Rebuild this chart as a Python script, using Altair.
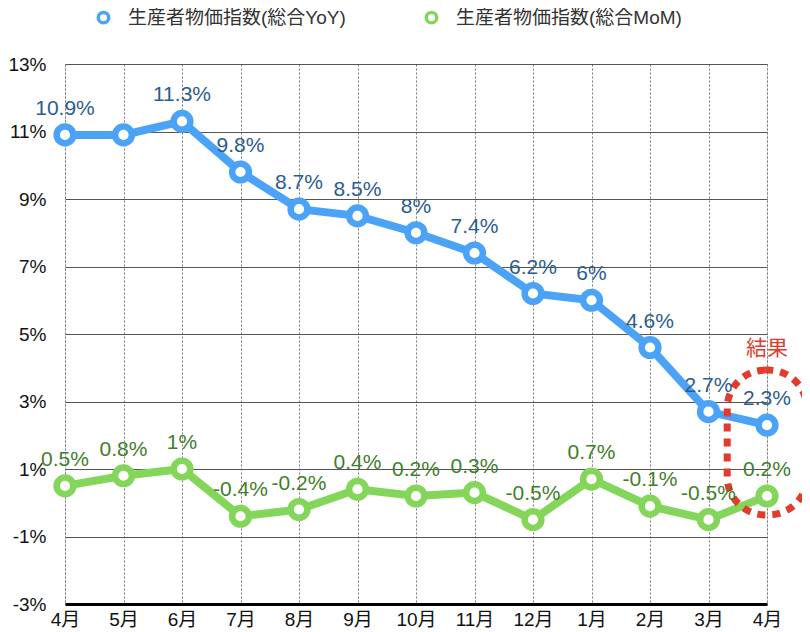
import altair as alt
import pandas as pd

months = ["4月", "5月", "6月", "7月", "8月", "9月", "10月", "11月", "12月", "1月", "2月", "3月", "4月"]
yoy = [10.9, 10.9, 11.3, 9.8, 8.7, 8.5, 8.0, 7.4, 6.2, 6.0, 4.6, 2.7, 2.3]
mom = [0.5, 0.8, 1.0, -0.4, -0.2, 0.4, 0.2, 0.3, -0.5, 0.7, -0.1, -0.5, 0.2]
yoy_show = [True, False, True, True, True, True, True, True, True, True, True, True, True]
mom_show = [True] * 13

name_yoy = "生産者物価指数(総合YoY)"
name_mom = "生産者物価指数(総合MoM)"

blue = "#4ba3f7"
green = "#84d65a"
blue_dark = "#2b5c90"
green_dark = "#3f7e2a"
red = "#e23b2b"

FONT = "Liberation Sans, Noto Sans CJK JP"

rows = []
for i in range(len(months)):
    rows.append({"idx": i, "series": name_yoy, "value": yoy[i],
                 "label": (f"{yoy[i]:g}%" if yoy_show[i] else "")})
for i in range(len(months)):
    rows.append({"idx": i, "series": name_mom, "value": mom[i],
                 "label": (f"{mom[i]:g}%" if mom_show[i] else "")})
df = pd.DataFrame(rows)

# annotation box around the latest result
box = pd.DataFrame([{"x": 11.32, "x2": 12.68, "y": 3.93, "y2": -0.36}])
note = pd.DataFrame([{"x": 12.0, "y": 4.55, "t": "結果"}])

month_expr = "[" + ",".join(f"'{m}'" for m in months) + "][datum.value]"

x_enc = alt.X("idx:Q",
              scale=alt.Scale(domain=[0, 12], nice=False, zero=False),
              axis=alt.Axis(values=list(range(13)), labelExpr=month_expr, title=None,
                            grid=True, gridDash=[2, 2], gridColor="#777", gridWidth=1,
                            domainColor="#000", domainWidth=3, ticks=False,
                            labelFontSize=19, labelPadding=6, labelColor="#111",
                            labelFont=FONT, labelFlush=False, labelOverlap=False,
                            labelBound=False))
y_enc = alt.Y("value:Q",
              scale=alt.Scale(domain=[-3, 13], nice=False, zero=False),
              axis=alt.Axis(values=list(range(-3, 14)),
                            labelExpr="datum.value % 2 !== 0 ? datum.value + '%' : ''",
                            title=None, grid=True,
                            gridDash={"condition": {"test": "datum.value % 2 === 0 && datum.value !== 0", "value": [2, 2]}, "value": []},
                            gridColor={"condition": {"test": "datum.value % 2 === 0 && datum.value !== 0", "value": "#888"}, "value": "#555"},
                            gridWidth=1, domain=False, ticks=False,
                            labelFontSize=19, labelPadding=19, labelColor="#111",
                            labelFont=FONT, labelFlush=False, labelOverlap=False))

color_enc = alt.Color("series:N",
                      scale=alt.Scale(domain=[name_yoy, name_mom], range=[blue, green]),
                      legend=alt.Legend(title=None, orient="none", legendX=29, legendY=-56,
                                        direction="horizontal", symbolType="circle",
                                        symbolSize=110, symbolStrokeWidth=3.5,
                                        symbolFillColor="white", labelFontSize=19,
                                        labelFont=FONT, labelColor="#333", labelLimit=400,
                                        labelOffset=15, columnPadding=73))

base = alt.Chart(df)

lines = base.mark_line(strokeWidth=8).encode(x=x_enc, y=y_enc, color=color_enc, detail="series:N")
points = base.mark_point(filled=False, fill="white", fillOpacity=1, size=280, strokeWidth=6.5, opacity=1).encode(
    x="idx:Q", y="value:Q", color=alt.Color("series:N", scale=alt.Scale(domain=[name_yoy, name_mom], range=[blue, green])))

rect = alt.Chart(box).mark_rect(fill=None, stroke=red, strokeWidth=7, strokeDash=[8, 7], cornerRadius=38).encode(
    x="x:Q", x2="x2:Q", y="y:Q", y2="y2:Q")

note_t = alt.Chart(note).mark_text(fontSize=21, color=red, font=FONT).encode(
    x="x:Q", y="y:Q", text="t:N")

txt_yoy = base.transform_filter(alt.datum.series == name_yoy).mark_text(
    fontSize=21, color=blue_dark, font=FONT, baseline="middle", dy=-26).encode(
    x="idx:Q", y="value:Q", text="label:N")
txt_mom = base.transform_filter(alt.datum.series == name_mom).mark_text(
    fontSize=21, color=green_dark, font=FONT, baseline="middle", dy=-26).encode(
    x="idx:Q", y="value:Q", text="label:N")

chart = alt.layer(lines, points, rect, note_t, txt_yoy, txt_mom).properties(
    width=702, height=540,
    autosize=alt.AutoSizeParams(type="none"),
    padding={"left": 57, "top": 56, "right": 35, "bottom": 28},
).configure_view(stroke=None).configure(background="white")

chart.save("out.html", embed_options={"renderer": "svg", "actions": False})
